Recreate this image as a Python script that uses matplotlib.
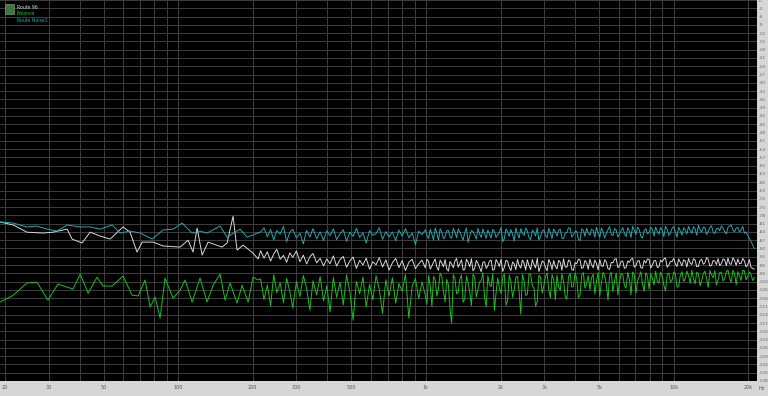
import numpy as np
import matplotlib.pyplot as plt

# Low-frequency points (sparse FFT bins), read per trace
cyan_lo_freq = [19.1, 21.6, 24.5, 26.9, 29.6, 32.4, 35.6, 40.2, 44.1, 48.4, 54.1, 58.3, 63.9,
                70.2, 78.4, 86.9, 95.3, 103.7, 113.8, 122.5, 130.8, 147.6, 157.5, 177.7, 189.7]
cyan_lo_db = [-80.4, -80.8, -82.2, -81.9, -83.0, -83.7, -81.5, -82.2, -82.2, -83.0, -81.5, -84.4, -83.7,
              -84.4, -86.6, -83.3, -83.0, -80.8, -84.4, -83.7, -84.4, -81.9, -85.9, -83.0, -85.9]

white_lo_freq = [19.1, 21.6, 24.5, 28.5, 31.2, 35.6, 37.3, 40.9, 44.1, 48.4, 53.1, 59.9, 63.9, 68.2, 71.5,
                 79.2, 86.9, 101.8, 109.6, 114.8, 119.2, 124.9, 132.0, 150.3, 157.5, 166.5, 172.8, 182.8,
                 200.6, 210.1]
white_lo_db = [-80.4, -81.5, -84.1, -84.4, -84.1, -83.0, -86.6, -88.0, -84.1, -85.5, -86.6, -82.2, -84.1, -91.3, -87.7,
               -87.7, -89.1, -89.5, -87.0, -91.3, -82.6, -92.4, -87.7, -89.5, -88.0, -78.3, -90.6, -88.8,
               -91.7, -93.8]

green_lo_freq = [19.1, 21.6, 24.5, 26.9, 29.8, 32.7, 37.6, 40.2, 43.3, 47.0, 49.7, 54.1, 59.9, 65.1, 68.9,
                 73.5, 77.0, 80.7, 84.5, 88.5, 95.3, 101.8, 106.6, 113.8, 122.5, 130.8, 138.3, 147.6,
                 154.6, 161.9, 172.8, 181.1, 191.5, 200.6, 210.1]
green_lo_db = [-109.4, -106.9, -102.5, -102.2, -108.7, -102.9, -104.7, -99.3, -106.2, -100.4, -103.6, -103.6, -100.0,
               -106.9, -107.2, -101.4, -111.2, -107.6, -115.2, -100.7, -108.0, -105.1, -101.4, -109.4, -100.7,
               -109.4, -103.3, -99.3, -108.7, -102.5, -109.8, -103.3, -109.4, -100.4, -101.4]

# Dense part, shared frequency points
hf_freq = [215, 222, 229, 236, 243, 250, 258, 266, 274, 282,
           290, 300, 310, 320, 330, 340, 350, 362, 374, 386,
           398, 410, 423, 436, 450, 464, 478, 493, 508, 524,
           540, 557, 574, 592, 610, 629, 648, 668, 689, 710,
           732, 755, 778, 802, 827, 853, 880, 907, 935, 964,
           994, 1025, 1057, 1090, 1124, 1159, 1195, 1232, 1270, 1310,
           1350, 1392, 1435, 1480, 1526, 1573, 1622, 1672, 1724, 1778,
           1833, 1890, 1949, 2010, 2072, 2136, 2203, 2271, 2342, 2415,
           2490, 2567, 2647, 2729, 2814, 2901, 2991, 3084, 3180, 3279,
           3381, 3486, 3594, 3706, 3821, 3940, 4062, 4188, 4318, 4452,
           4590, 4733, 4880, 5031, 5187, 5348, 5514, 5685, 5862, 6044,
           6231, 6425, 6624, 6830, 7042, 7260, 7486, 7718, 7957, 8204,
           8459, 8721, 8992, 9271, 9559, 9855, 10161, 10476, 10801, 11136,
           11482, 11838, 12205, 12584, 12974, 13377, 13792, 14220, 14661, 15116,
           15585, 16068, 16567, 17081, 17611, 18157, 18721, 19302, 19900, 20518,
           21155]

cyan_hf_db = [-84.0, -82.5, -85.8, -83.1, -86.9, -83.5, -84.8, -82.0, -87.5, -84.2,
              -83.0, -86.2, -84.5, -88.3, -83.4, -85.9, -82.8, -86.5, -84.0, -87.1,
              -83.6, -85.4, -82.9, -86.8, -84.7, -83.2, -87.4, -84.1, -85.6, -82.7,
              -86.0, -84.3, -88.0, -83.5, -85.2, -84.6, -82.5, -86.7, -83.9, -85.8,
              -84.0, -87.2, -83.3, -85.5, -82.8, -86.1, -84.4, -88.6, -83.7, -85.0,
              -83.2, -86.4, -84.8, -82.6, -87.0, -84.1, -85.7, -83.4, -86.3, -84.0,
              -82.9, -85.6, -84.2, -87.8, -83.5, -85.1, -82.7, -86.0, -84.5, -83.3,
              -86.2, -83.8, -85.0, -82.4, -86.5, -84.0, -83.1, -87.3, -84.6, -82.8,
              -85.3, -83.6, -86.8, -84.1, -82.5, -85.7, -83.2, -86.1, -84.4, -82.9,
              -85.5, -83.0, -86.4, -84.2, -82.6, -85.0, -83.7, -87.1, -83.4, -82.7,
              -85.2, -83.5, -82.3, -86.0, -83.9, -84.6, -82.1, -85.4, -83.3, -84.8,
              -82.4, -85.7, -83.6, -82.0, -84.9, -83.1, -86.2, -82.8, -84.3, -83.0,
              -82.2, -84.8, -83.4, -81.9, -85.3, -82.7, -84.0, -82.3, -85.1, -83.2,
              -82.0, -84.5, -82.9, -81.6, -84.1, -82.5, -83.8, -81.8, -84.6, -82.6,
              -81.8, -83.9, -82.3, -81.5, -84.0, -82.4, -83.2, -84.5, -85.3, -87.5,
              -90.0]

white_hf_db = [-90.8, -93.5, -91.2, -94.6, -92.0, -90.3, -93.9, -92.5, -95.0, -91.6,
               -93.2, -90.9, -94.8, -92.4, -95.6, -93.0, -91.8, -95.2, -93.6, -96.3,
               -93.8, -95.5, -92.7, -96.4, -94.0, -92.9, -96.8, -94.5, -93.1, -97.2,
               -94.3, -96.0, -93.5, -97.5, -94.8, -95.9, -93.3, -96.7, -94.1, -97.8,
               -95.2, -93.6, -96.9, -94.4, -98.0, -95.0, -93.9, -97.3, -95.6, -94.2,
               -97.0, -94.6, -96.2, -93.8, -97.9, -95.3, -94.0, -98.2, -95.7, -94.5,
               -96.8, -94.1, -97.6, -95.0, -93.7, -97.2, -95.4, -98.4, -94.8, -96.3,
               -94.2, -97.5, -95.1, -93.9, -96.9, -94.6, -98.0, -95.5, -94.0, -97.1,
               -95.3, -94.1, -97.7, -95.8, -93.6, -96.6, -94.9, -98.1, -95.2, -94.4,
               -97.4, -95.0, -93.8, -96.8, -94.7, -97.9, -95.5, -94.2, -96.9, -95.1,
               -93.9, -97.0, -95.4, -94.0, -96.5, -94.8, -97.6, -95.2, -93.7, -96.4,
               -94.6, -96.9, -95.0, -93.5, -96.2, -94.4, -97.1, -95.3, -93.9, -96.0,
               -94.3, -96.6, -94.9, -93.4, -96.0, -94.7, -95.6, -93.8, -96.3, -94.5,
               -93.6, -95.8, -94.2, -96.5, -93.9, -95.2, -94.0, -96.1, -94.6, -93.7,
               -95.5, -94.1, -93.5, -95.7, -94.3, -93.8, -95.4, -94.5, -95.9, -96.8,
               -97.5]

green_hf_db = [-101.0, -108.5, -103.2, -110.8, -99.5, -106.0, -102.4, -109.7, -100.8, -105.5,
               -111.5, -102.0, -107.4, -99.8, -104.6, -112.3, -101.7, -106.8, -100.2, -109.0,
               -103.5, -113.0, -100.5, -107.7, -102.2, -110.4, -99.6, -105.8, -116.0, -101.9,
               -106.4, -100.3, -111.2, -103.0, -108.6, -99.9, -104.8, -113.5, -101.3, -107.2,
               -100.6, -109.8, -102.7, -105.5, -99.4, -115.2, -103.6, -100.9, -108.1, -102.1,
               -106.9, -99.8, -111.0, -101.5, -104.3, -100.2, -109.4, -103.1, -117.0, -101.0,
               -105.7, -99.6, -108.2, -102.4, -110.7, -100.4, -104.9, -101.6, -107.5, -99.9,
               -103.8, -112.4, -100.7, -106.3, -99.2, -108.9, -102.0, -105.0, -100.1, -113.8,
               -101.8, -106.6, -99.5, -104.2, -109.3, -100.3, -103.5, -98.9, -107.8, -101.2,
               -99.6, -105.1, -102.0, -108.4, -99.0, -103.7, -100.8, -106.9, -98.7, -102.6,
               -104.9, -99.3, -101.8, -107.3, -98.6, -103.1, -100.0, -105.6, -98.9, -102.2,
               -99.4, -104.4, -101.1, -98.5, -106.2, -100.2, -102.9, -98.8, -104.7, -100.6,
               -98.3, -102.6, -100.1, -105.4, -98.9, -101.5, -99.2, -103.8, -98.4, -101.0,
               -99.8, -97.9, -102.8, -99.0, -101.7, -98.2, -104.1, -99.5, -98.0, -101.3,
               -98.6, -100.9, -97.8, -102.3, -99.1, -98.4, -101.6, -98.1, -100.2, -99.3,
               -100.5]

# Extra in-between points above 1 kHz, where the spectrum is densest
mid_freq = [1009, 1041, 1073, 1107, 1141, 1177, 1213, 1251, 1290, 1330,
            1371, 1413, 1457, 1503, 1549, 1597, 1647, 1698, 1751, 1805,
            1861, 1919, 1979, 2041, 2104, 2169, 2237, 2306, 2378, 2452,
            2528, 2607, 2688, 2771, 2857, 2946, 3037, 3132, 3229, 3330,
            3433, 3540, 3650, 3763, 3880, 4001, 4125, 4253, 4385, 4521,
            4661, 4806, 4955, 5109, 5267, 5431, 5599, 5773, 5953, 6138,
            6327, 6525, 6727, 6936, 7151, 7373, 7602, 7838, 8080, 8331,
            8590, 8856, 9131, 9415, 9707, 10008, 10318, 10638, 10968, 11309,
            11660, 12021, 12394, 12779, 13175, 13584, 14006, 14440, 14888, 15350,
            15826, 16317, 16824, 17346, 17884, 18438, 19011, 19601, 20208, 20836]

cyan_mid_db = [-85.1, -83.0, -86.9, -84.3, -82.8, -86.5, -83.6, -85.9, -82.7, -86.1,
               -84.0, -87.0, -82.6, -85.4, -83.9, -86.6, -84.8, -82.9, -86.3, -84.7,
               -83.1, -86.0, -84.3, -87.5, -82.9, -85.6, -84.9, -82.6, -86.2, -84.4,
               -82.6, -86.1, -83.4, -85.5, -87.0, -83.8, -85.2, -82.7, -86.4, -84.0,
               -83.4, -86.3, -84.5, -82.5, -85.9, -83.8, -86.7, -82.9, -85.6, -84.5,
               -83.0, -85.9, -84.4, -82.6, -86.1, -83.2, -84.9, -82.8, -85.8, -83.5,
               -84.6, -82.5, -86.0, -83.4, -82.3, -85.6, -83.6, -84.7, -82.3, -85.5,
               -83.9, -82.4, -85.7, -83.0, -84.3, -82.1, -85.9, -83.6, -82.5, -84.7,
               -83.4, -82.1, -85.2, -83.3, -82.2, -84.9, -82.4, -84.2, -82.9, -83.6,
               -82.6, -84.7, -81.9, -83.3, -82.6, -84.1, -82.0, -84.0, -86.2, -88.7]

white_mid_db = [-93.9, -97.5, -95.0, -96.8, -94.2, -96.6, -97.4, -94.7, -96.9, -93.6,
                -95.4, -97.8, -93.9, -96.6, -98.1, -94.3, -96.9, -95.0, -97.2, -94.6,
                -97.9, -94.0, -96.5, -98.3, -94.3, -96.8, -94.9, -97.7, -96.1, -94.2,
                -97.8, -96.2, -94.0, -97.0, -98.3, -94.5, -96.8, -94.0, -97.6, -96.5,
                -94.3, -97.9, -96.7, -94.2, -97.6, -95.1, -93.9, -97.2, -94.3, -97.5,
                -95.8, -94.2, -97.8, -96.3, -94.1, -97.3, -95.0, -93.9, -96.9, -94.6,
                -97.2, -94.5, -93.9, -96.8, -94.5, -97.0, -94.3, -93.8, -97.1, -94.5,
                -96.9, -94.2, -93.8, -96.8, -94.7, -93.6, -96.5, -95.0, -94.1, -96.7,
                -95.3, -93.7, -96.6, -94.4, -95.7, -93.3, -96.4, -94.3, -95.8, -96.2,
                -93.8, -96.2, -95.6, -93.4, -96.1, -95.5, -93.6, -96.7, -94.0, -97.2]

green_mid_db = [-110.2, -103.5, -100.1, -107.3, -98.9, -105.8, -101.2, -112.0, -99.5, -106.4,
                -101.1, -109.5, -100.0, -105.9, -99.3, -107.6, -102.2, -98.8, -111.1, -103.0,
                -99.0, -106.1, -104.2, -100.3, -110.6, -99.6, -107.7, -100.4, -105.8, -99.4,
                -107.0, -99.2, -103.6, -110.9, -99.7, -106.2, -100.1, -104.8, -99.5, -108.6,
                -103.9, -99.2, -107.4, -100.1, -104.0, -98.9, -107.8, -99.7, -104.4, -99.8,
                -100.6, -106.5, -98.7, -102.4, -99.8, -108.7, -98.6, -101.9, -106.8, -99.1,
                -103.4, -98.7, -106.8, -99.6, -101.6, -98.4, -105.5, -100.0, -99.1, -103.2,
                -101.9, -98.6, -103.3, -99.5, -102.2, -98.5, -104.0, -99.7, -101.9, -98.2,
                -102.6, -100.8, -98.6, -103.5, -99.1, -101.0, -98.0, -100.6, -103.2, -98.7,
                -101.8, -98.4, -100.7, -97.9, -103.1, -99.8, -97.9, -101.4, -98.5, -101.6]

legend_names = ['Route 96', 'Balance', 'Route Noise1']

x_major = [20, 30, 50, 100, 200, 300, 500, 1000, 2000, 3000, 5000, 10000, 20000]
x_labels = ['20', '30', '50', '100', '200', '300', '500', '1k', '2k', '3k', '5k', '10k', '20k']
x_grid = [20, 30, 40, 50, 60, 70, 80, 90, 100, 200, 300, 400, 500, 600, 700, 800, 900,
          1000, 2000, 3000, 4000, 5000, 6000, 7000, 8000, 9000, 10000, 20000]
y_ticks = list(range(-138, 1, 3))

c_cyan = '#22a9b4'
c_white = '#d9d9d9'
c_green = '#19c219'


def trace(lo_f, lo_v, hf_v, mid_v):
    f = np.array(lo_f + hf_freq + mid_freq)
    v = np.array(lo_v + hf_v + mid_v)
    order = np.argsort(f)
    return f[order], v[order]


fig = plt.figure(figsize=(7.68, 3.96), dpi=100, facecolor='#d6d6d6')
ax = fig.add_axes([0, 15 / 396, 757 / 768, 381 / 396])
ax.set_facecolor('black')
ax.set_xscale('log')
ax.set_xlim(19.08, 21700)
ax.set_ylim(-138, 0)

for f in x_grid:
    ax.axvline(f, color='#3e3e3e', lw=0.7, zorder=1)
for v in y_ticks:
    ax.axhline(v, color='#3e3e3e', lw=0.7, zorder=1)

ax.plot(*trace(green_lo_freq, green_lo_db, green_hf_db, green_mid_db), color=c_green, lw=0.7, zorder=3)
ax.plot(*trace(white_lo_freq, white_lo_db, white_hf_db, white_mid_db), color=c_white, lw=0.7, zorder=4)
ax.plot(*trace(cyan_lo_freq, cyan_lo_db, cyan_hf_db, cyan_mid_db), color=c_cyan, lw=0.7, zorder=5)

ax.set_xticks(x_major)
ax.set_xticklabels(x_labels)
ax.minorticks_off()
ax.tick_params(axis='x', length=0, labelsize=3.5, colors='#555555', pad=3)
ax.yaxis.tick_right()
ax.set_yticks(y_ticks)
ax.set_yticklabels([str(v) for v in y_ticks])
ax.tick_params(axis='y', length=0, labelsize=3.2, colors='#666666', pad=1)
for s in ax.spines.values():
    s.set_visible(False)

fig.text(762 / 768, 1 - 389 / 396, 'Hz', fontsize=3.5, color='#555555', ha='center', va='center')

# legend block
ax.add_patch(plt.Rectangle((0.007, 0.962), 0.012, 0.028, transform=ax.transAxes,
                           facecolor='#3a7a3a', edgecolor='#888888', lw=0.5, zorder=6))
for i, (name, c) in enumerate(zip(legend_names, [c_white, c_green, c_cyan])):
    ax.text(0.022, 0.988 - i * 0.018, name, transform=ax.transAxes, fontsize=3.3,
            color=c, va='top', ha='left', zorder=6)

fig.savefig('out.png', dpi=100, facecolor=fig.get_facecolor())
